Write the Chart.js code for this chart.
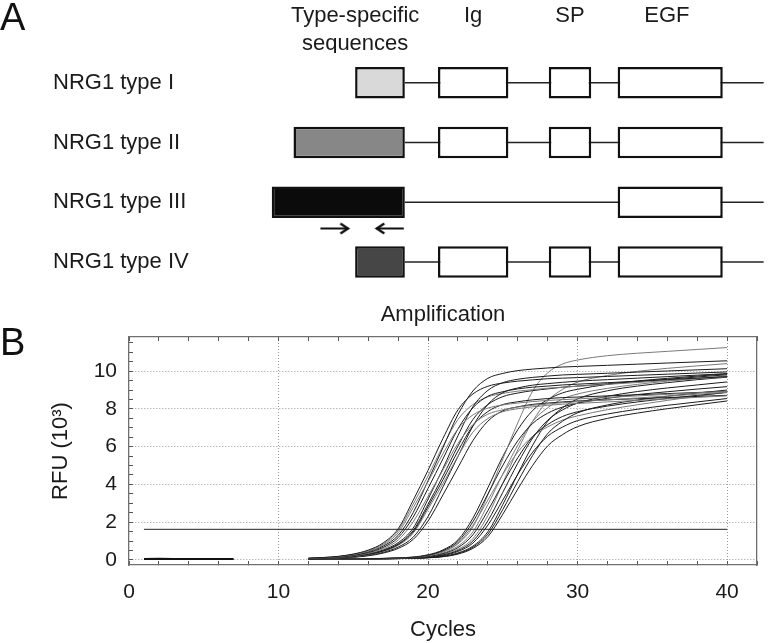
<!DOCTYPE html>
<html>
<head>
<meta charset="utf-8">
<script src="https://cdn.jsdelivr.net/npm/chart.js@4.4.1/dist/chart.umd.min.js"></script>
<style>
  body { margin: 0; background: #fff; }
  #wrap { position: relative; width: 776px; height: 643px; font-family: 'Liberation Sans', Arial, sans-serif; }
  canvas { position: absolute; left: 0; }
  #geneChart { top: 0; }
  #ampChart { top: 300px; }
  .panel { position: absolute; left: 0; font-size: 38px; line-height: 1; color: #111; }
</style>
</head>
<body>
<div id="wrap">
  <canvas id="geneChart" width="776" height="300"></canvas>
  <canvas id="ampChart" width="776" height="343"></canvas>
  <div class="panel" style="top:-2px">A</div>
  <div class="panel" style="top:323px">B</div>
</div>
<script>
// ---- panel A: transcript structure (diagram units along the gene) ----
const nrgTypes = ['NRG1 type I', 'NRG1 type II', 'NRG1 type III', 'NRG1 type IV'];
const typeStart = [20.3, 8.4, 4.2, 20.3];
const typeEnd = 29.9;
const typeFill = ['#d9d9d9', '#878787', '#0b0b0b', '#464646'];
const igSpan = [36.3, 49.9];
const spSpan = [57.7, 65.9];
const egfSpan = [71.0, 91.3];
const geneEnd = 99.2;
const hasIgSp = [true, true, false, true];
const headerLabels = [['Type-specific', 'sequences'], 'Ig', 'SP', 'EGF'];
const headerPos = [20.3, 43.1, 61.8, 80.5];
const primerRow = 2.44;
const primerFwd = [13.6, 19.0];
const primerRev = [29.7, 24.4];

// ---- panel B: amplification curves ----
const rfuCycles = [12, 13, 14, 15, 16, 17, 18, 19, 20, 21, 22, 23, 24, 25, 26, 27, 28, 29, 30, 32, 34, 36, 38, 40];
const baselineCycles = [1, 2, 3, 4, 5, 6, 7];
const baselineRfu = [0.05, 0.06, 0.05, 0.05, 0.05, 0.05, 0.05];
const thresholdCycles = [1, 40];
const thresholdRfu = 1.62;

const earlyCurves = [
  [0.09,0.13,0.19,0.31,0.52,0.90,1.65,3.15,4.75,6.44,7.95,8.79,9.20,9.37,9.47,9.54,9.60,9.63,9.66,9.72,9.78,9.84,9.90,9.96],
  [0.08,0.12,0.17,0.28,0.46,0.79,1.44,2.76,4.15,5.63,6.94,7.68,8.04,8.21,8.31,8.39,8.45,8.49,8.53,8.61,8.69,8.77,8.85,8.93],
  [0.08,0.11,0.16,0.26,0.43,0.73,1.30,2.50,4.20,5.95,7.70,8.95,9.62,9.88,10.03,10.11,10.17,10.22,10.25,10.31,10.37,10.43,10.49,10.55],
  [0.08,0.10,0.15,0.24,0.39,0.66,1.18,2.26,3.79,5.36,6.94,8.06,8.67,8.91,9.06,9.15,9.21,9.27,9.31,9.39,9.47,9.55,9.63,9.71],
  [0.07,0.10,0.14,0.22,0.35,0.59,1.05,2.01,3.37,4.77,6.17,7.17,7.72,7.95,8.10,8.19,8.26,8.33,8.38,8.48,8.58,8.68,8.78,8.88],
  [0.07,0.08,0.12,0.18,0.29,0.47,0.81,1.48,2.82,4.25,5.76,7.11,7.86,8.23,8.38,8.48,8.55,8.60,8.63,8.69,8.75,8.81,8.87,8.93],
  [0.07,0.09,0.13,0.19,0.32,0.53,0.91,1.68,3.22,4.85,6.58,8.11,8.98,9.39,9.57,9.67,9.74,9.80,9.83,9.89,9.95,10.01,10.07,10.13],
  [0.07,0.08,0.11,0.17,0.27,0.45,0.77,1.41,2.69,4.05,5.49,6.77,7.49,7.85,8.01,8.11,8.19,8.25,8.29,8.37,8.45,8.53,8.61,8.69],
  [0.06,0.07,0.10,0.14,0.22,0.36,0.61,1.08,2.06,3.45,4.89,6.32,7.35,7.90,8.11,8.24,8.31,8.37,8.42,8.48,8.54,8.60,8.66,8.72],
  [0.06,0.08,0.11,0.15,0.24,0.40,0.68,1.20,2.30,3.87,5.48,7.09,8.24,8.86,9.11,9.26,9.34,9.41,9.47,9.55,9.63,9.71,9.79,9.87],
  [0.09,0.12,0.18,0.30,0.49,0.84,1.55,2.95,4.45,6.03,7.44,8.23,8.64,8.82,8.94,9.02,9.10,9.15,9.20,9.30,9.40,9.50,9.60,9.70],
  [0.07,0.09,0.12,0.18,0.30,0.49,0.84,1.55,2.95,4.45,6.03,7.44,8.23,8.65,8.84,8.97,9.06,9.15,9.21,9.33,9.45,9.57,9.69,9.81]
];

const lateCurves = [
  [0.05,0.05,0.05,0.05,0.06,0.08,0.10,0.14,0.25,0.49,0.97,2.02,3.49,5.01,6.31,7.23,7.77,8.10,8.30,8.56,8.76,8.91,9.05,9.18],
  [0.05,0.05,0.05,0.05,0.06,0.07,0.09,0.14,0.22,0.42,0.85,1.75,3.44,5.35,7.26,8.95,9.91,10.38,10.59,10.82,10.95,11.05,11.15,11.25],
  [0.05,0.05,0.05,0.05,0.06,0.08,0.11,0.15,0.27,0.53,1.06,2.21,3.82,5.48,6.90,7.92,8.49,8.85,9.04,9.30,9.48,9.62,9.74,9.86],
  [0.05,0.05,0.05,0.05,0.06,0.07,0.08,0.11,0.18,0.33,0.65,1.33,2.61,4.05,5.41,6.53,7.17,7.60,7.85,8.15,8.37,8.55,8.72,8.87],
  [0.05,0.05,0.05,0.05,0.06,0.07,0.09,0.12,0.19,0.37,0.73,1.49,2.93,4.55,6.08,7.34,8.06,8.53,8.79,9.09,9.30,9.47,9.61,9.75],
  [0.05,0.05,0.05,0.05,0.05,0.06,0.07,0.10,0.13,0.23,0.45,0.89,1.84,3.17,4.53,5.71,6.55,7.04,7.38,7.73,7.98,8.19,8.37,8.55],
  [0.05,0.05,0.05,0.05,0.05,0.06,0.08,0.10,0.14,0.26,0.50,1.00,2.07,3.58,5.12,6.46,7.40,7.95,8.31,8.67,8.92,9.11,9.27,9.43],
  [0.05,0.05,0.05,0.05,0.05,0.06,0.08,0.11,0.16,0.29,0.56,1.13,2.35,4.07,5.83,7.35,8.43,9.04,9.42,9.77,9.99,10.15,10.28,10.40],
  [0.05,0.05,0.05,0.05,0.05,0.06,0.07,0.08,0.11,0.17,0.31,0.61,1.23,2.42,3.75,5.01,6.04,6.64,7.06,7.50,7.78,8.01,8.22,8.42],
  [0.05,0.05,0.05,0.05,0.05,0.06,0.07,0.08,0.12,0.18,0.34,0.67,1.36,2.67,4.15,5.54,6.69,7.35,7.79,8.21,8.47,8.67,8.84,9.00],
  [0.05,0.05,0.05,0.05,0.06,0.07,0.10,0.13,0.23,0.45,0.89,1.84,3.17,4.53,5.71,6.55,7.05,7.41,7.63,7.96,8.22,8.45,8.67,8.89],
  [0.05,0.05,0.05,0.05,0.05,0.06,0.07,0.09,0.12,0.19,0.37,0.73,1.49,2.93,4.55,6.08,7.34,8.06,8.53,8.96,9.21,9.39,9.55,9.68]
];

Chart.defaults.font.family = "'Liberation Sans', Arial, sans-serif";
Chart.defaults.color = '#1a1a1a';

// arrowhead used as point style for the primer arrows
const chevron = document.createElement('canvas');
chevron.width = 24;
chevron.height = 13;
(function () {
  const c = chevron.getContext('2d');
  c.strokeStyle = '#111';
  c.lineWidth = 2.4;
  c.beginPath();
  c.moveTo(4, 1.5);
  c.lineTo(11.5, 6.5);
  c.lineTo(4, 11.5);
  c.stroke();
})();

const boxStyle = {
  borderColor: '#111',
  borderWidth: 2.5,
  borderSkipped: false,
  grouped: false,
  maxBarThickness: 31.5
};

const rowBoxes = (span, keep) => nrgTypes
  .map((_, i) => ({ y: i, x: span }))
  .filter((_, i) => keep[i]);

const primerSet = (pts) => ({
  type: 'line',
  data: [{ x: pts[0], y: primerRow }, { x: pts[1], y: primerRow }],
  borderColor: '#111',
  borderWidth: 2.2,
  pointRadius: [0, 6],
  pointStyle: chevron,
  pointRotation: pts[1] > pts[0] ? 0 : 180
});

new Chart(document.getElementById('geneChart'), {
  type: 'bar',
  data: {
    datasets: [
      primerSet(primerFwd),
      primerSet(primerRev),
      Object.assign({
        data: nrgTypes.map((_, i) => ({ y: i, x: [typeStart[i], typeEnd] })),
        backgroundColor: typeFill
      }, boxStyle),
      Object.assign({ data: rowBoxes(igSpan, hasIgSp), backgroundColor: '#fff' }, boxStyle),
      Object.assign({ data: rowBoxes(spSpan, hasIgSp), backgroundColor: '#fff' }, boxStyle),
      Object.assign({ data: rowBoxes(egfSpan, [true, true, true, true]), backgroundColor: '#fff' }, boxStyle),
      {
        data: nrgTypes.map((_, i) => ({ y: i, x: [typeEnd, geneEnd] })),
        backgroundColor: '#222',
        borderWidth: 0,
        grouped: false,
        maxBarThickness: 1.5
      }
    ]
  },
  options: {
    indexAxis: 'y',
    responsive: false,
    animation: false,
    layout: { padding: { left: 53, top: 0, right: 0, bottom: 7 } },
    plugins: { legend: { display: false }, tooltip: { enabled: false } },
    scales: {
      x: { type: 'linear', min: 0, max: 100, display: false },
      y: {
        type: 'linear',
        min: -0.5,
        max: 3.5,
        reverse: true,
        offset: false,
        afterBuildTicks: s => { s.ticks = nrgTypes.map((_, i) => ({ value: i })); },
        ticks: {
          autoSkip: false,
          crossAlign: 'far',
          padding: -8,
          callback: v => nrgTypes[v],
          font: { size: 22 },
          color: '#1a1a1a'
        },
        grid: { display: false, drawTicks: false, offset: false },
        border: { display: false },
        afterFit: s => { s.width = 197; }
      },
      xTop: {
        type: 'linear',
        position: 'top',
        min: 0,
        max: 100,
        afterBuildTicks: s => { s.ticks = headerPos.map(v => ({ value: v })); },
        ticks: {
          autoSkip: false,
          maxRotation: 0,
          crossAlign: 'far',
          padding: -5,
          callback: (v, i) => headerLabels[i],
          font: { size: 22, lineHeight: 1.27 },
          color: '#1a1a1a'
        },
        grid: { display: false, drawTicks: false },
        border: { display: false },
        afterFit: s => { s.height = 53; }
      }
    }
  }
});

// ---- panel B ----
const toPoints = (xs, ys) => ys.map((y, i) => ({ x: xs[i], y: y }));
const curveSets = earlyCurves.concat(lateCurves).map((vals, i) => ({
  data: toPoints(rfuCycles, vals),
  borderColor: i % 3 === 1 ? '#7a7a7a' : '#1c1c1c',
  borderWidth: 1,
  pointRadius: 0,
  cubicInterpolationMode: 'monotone'
}));

const axisGray = '#707070';
const xGrid = ctx => (ctx.tick && ctx.tick.value % 10 === 0 && ctx.tick.value > 0) ? '#9a9a9a' : 'rgba(0,0,0,0)';
const yGrid = ctx => (ctx.tick && ctx.tick.value % 2 === 0) ? '#9a9a9a' : 'rgba(0,0,0,0)';

new Chart(document.getElementById('ampChart'), {
  type: 'line',
  data: {
    datasets: [
      {
        data: thresholdCycles.map(c => ({ x: c, y: thresholdRfu })),
        borderColor: '#222', borderWidth: 1, pointRadius: 0
      },
      {
        data: toPoints(baselineCycles, baselineRfu),
        borderColor: '#111', borderWidth: 2, pointRadius: 0
      },
      ...curveSets
    ]
  },
  options: {
    responsive: false,
    animation: false,
    layout: { padding: 0 },
    plugins: { legend: { display: false }, tooltip: { enabled: false } },
    scales: {
      x: {
        type: 'linear',
        position: 'bottom',
        min: 0,
        max: 42,
        ticks: {
          stepSize: 2,
          autoSkip: false,
          maxRotation: 0,
          padding: 19,
          callback: v => (v % 10 === 0 && v <= 40) ? String(v) : '',
          font: { size: 21 },
          color: '#1a1a1a'
        },
        grid: { color: xGrid, tickColor: '#555', tickLength: -4 },
        border: { color: axisGray, width: 1.3, dash: [1, 2] },
        title: { display: true, text: 'Cycles', font: { size: 22 }, padding: { top: 0, bottom: 0 }, color: '#1a1a1a' },
        afterFit: s => { s.height = 78; }
      },
      y: {
        type: 'linear',
        position: 'left',
        min: -0.27,
        max: 11.81,
        ticks: {
          stepSize: 0.5,
          includeBounds: false,
          autoSkip: false,
          padding: 16,
          callback: v => (v % 2 === 0) ? String(v) : '',
          font: { size: 21 },
          color: '#1a1a1a'
        },
        grid: { color: yGrid, tickColor: '#555', tickLength: -4 },
        border: { color: axisGray, width: 1.3, dash: [1, 2] },
        title: { display: true, text: 'RFU (10³)', font: { size: 22 }, padding: { top: 48, bottom: 0 }, color: '#1a1a1a' },
        afterFit: s => { s.width = 129; }
      },
      xTop: {
        type: 'linear',
        position: 'top',
        min: 0,
        max: 42,
        ticks: { stepSize: 2, autoSkip: false, display: false },
        grid: { drawOnChartArea: false, tickColor: '#555', tickLength: -4 },
        border: { color: axisGray, width: 1.3 },
        title: { display: true, text: 'Amplification', font: { size: 22 }, padding: { top: 2, bottom: 0 }, color: '#1a1a1a' },
        afterFit: s => { s.height = 37; }
      },
      yRight: {
        type: 'linear',
        position: 'right',
        min: -0.27,
        max: 11.81,
        ticks: { display: false },
        grid: { drawOnChartArea: false, drawTicks: false },
        border: { color: axisGray, width: 1.3 },
        afterFit: s => { s.width = 12; }
      }
    }
  }
});
</script>
</body>
</html>
